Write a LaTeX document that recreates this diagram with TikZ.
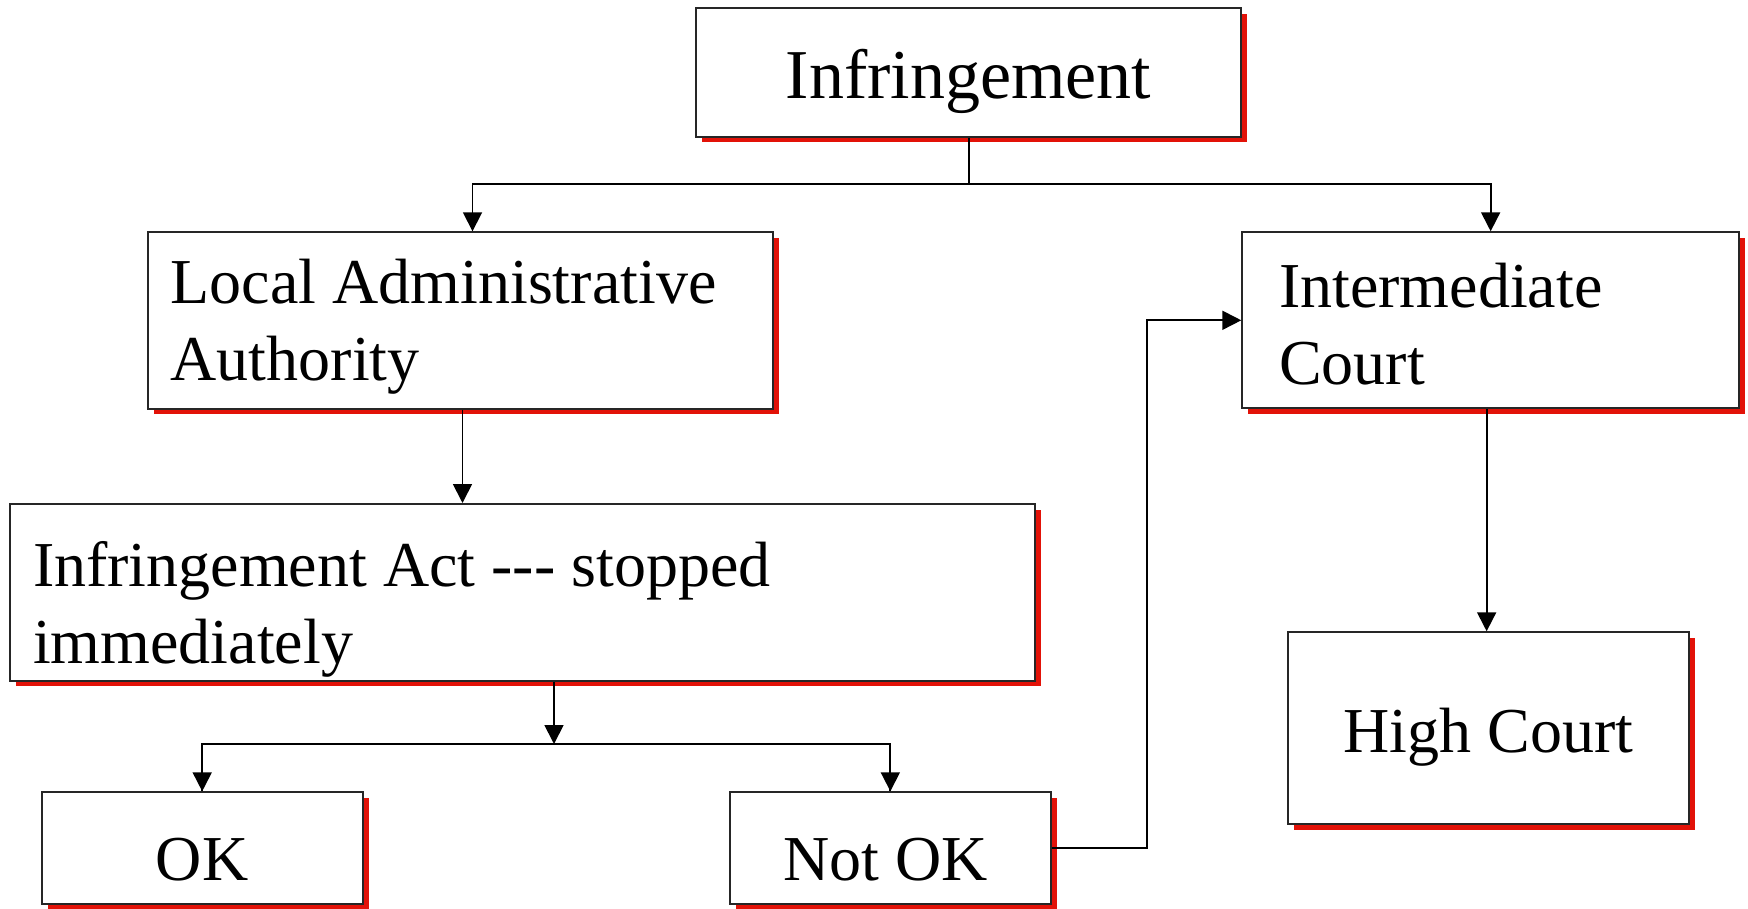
\documentclass[tikz,border=0pt]{standalone}
\usepackage{fontspec}
\setmainfont{Liberation Serif}[Ligatures=TeXOff]
\usetikzlibrary{arrows.meta,shadows}

\definecolor{shred}{RGB}{226,18,8}

\tikzset{
  box/.style={rectangle, draw=black!85, line width=2pt, fill=white, inner sep=0pt,
    drop shadow={shadow xshift=6pt, shadow yshift=-5.5pt, fill=shred, opacity=1}},
  bigtext/.style={font=\fontsize{64}{77}\selectfont},
  conn/.style={line width=1.8pt, draw=black},
  arr/.style={conn, -{Triangle[length=19pt,width=19pt]}}
}

\begin{document}
\begin{tikzpicture}[x=1pt, y=-1pt]
\useasboundingbox (0,0) rectangle (1748,909);

% boxes (centres and sizes in pt, y downwards)
\node[box, minimum width=544.6pt, minimum height=128.4pt,
      font=\fontsize{70}{84}\selectfont, text height=51.6pt, text depth=0pt]
  (inf) at (968.6,72.5) {Infringement};

\node[box, bigtext, minimum width=624.4pt, minimum height=176.2pt,
      inner xsep=22.4pt, text width=579.6pt, align=flush left,
      text height=46pt, text depth=80.2pt]
  (laa) at (460.5,320.4) {Local Administrative\\Authority};

\node[box, bigtext, minimum width=1025pt, minimum height=176.5pt,
      inner xsep=23pt, text width=979pt, align=flush left,
      text height=46pt, text depth=58.5pt]
  (ia) at (522.5,592.25) {Infringement Act --- stopped\\immediately};

\node[box, bigtext, minimum width=321pt, minimum height=112pt,
      text height=64.8pt, text depth=0pt]
  (ok) at (202.2,848.3) {OK};

% label sits a little left of the box centre
\node[box, bigtext, minimum width=320.7pt, minimum height=112pt,
      text height=64.8pt, text depth=0pt]
  (nok) at (890.35,848.3) {Not OK\kern10pt};

\node[box, bigtext, minimum width=496.7pt, minimum height=176pt,
      inner xsep=36.7pt, text width=423.3pt, align=flush left,
      text height=46pt, text depth=72pt]
  (ic) at (1490.65,320.3) {Intermediate\\Court};

\node[box, bigtext, minimum width=400.7pt, minimum height=192pt,
      text height=48pt, text depth=0pt]
  (hc) at (1488.65,728.3) {High Court};

% branching points
\coordinate (fork1) at (968.6,184);
\coordinate (fork2) at (554,744);

% connectors
\draw[conn] (inf.south) -- (fork1);
\draw[arr] (fork1) -| ([xshift=12pt]laa.north);
\draw[arr] (fork1) -| (ic.north);
\draw[arr] ([xshift=2pt]laa.south) -- ([xshift=2pt]laa.south |- ia.north);
\draw[arr] (ia.south -| fork2) -- (fork2);
\draw[conn] (fork2) -| (ok.north);
\draw[arr] (fork2 -| ok.north) -- (ok.north);
\draw[conn] (fork2) -| (nok.north);
\draw[arr] (fork2 -| nok.north) -- (nok.north);
\draw[arr] (nok.east) -- ++(95.3,0) |- (ic.west);
\draw[arr] ([xshift=-4pt]ic.south) -- ([xshift=-4pt]ic.south |- hc.north);
\end{tikzpicture}
\end{document}
